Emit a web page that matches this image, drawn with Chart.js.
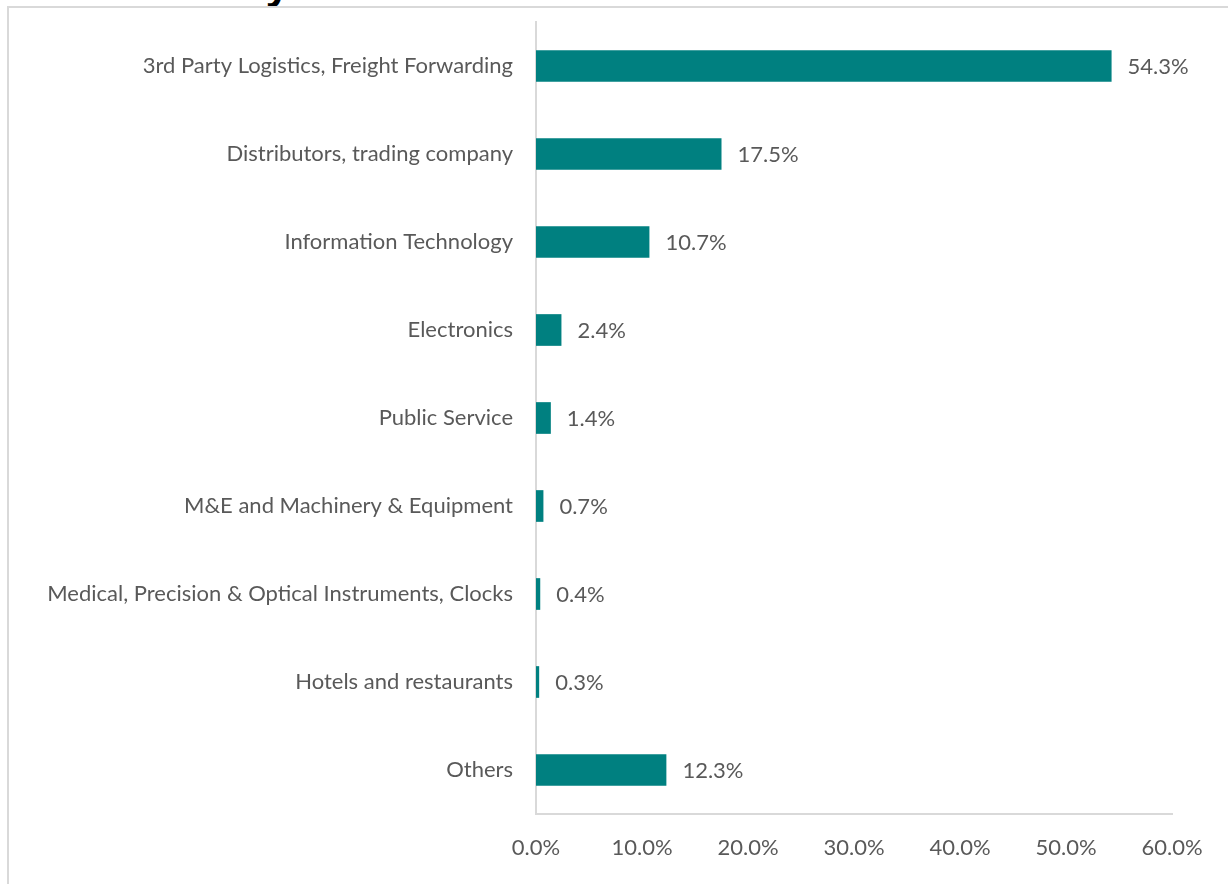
<!DOCTYPE html>
<html>
<head>
<meta charset="utf-8">
<script src="https://cdn.jsdelivr.net/npm/chart.js@4"></script>
<style>
  html, body { margin: 0; padding: 0; background: #fff; overflow: hidden; }
  #frame { position: absolute; left: 7px; top: 6px; width: 1230px; height: 900px; border: 2px solid #d9d9d9; box-sizing: border-box; }
  #title { position: absolute; left: 120px; top: -44px; font: bold 40px "Open Sans", sans-serif; color: #000; white-space: nowrap; }
  #wrap { position: absolute; left: 0; top: 0; width: 1228px; height: 884px; }
</style>
</head>
<body>
<div id="title">Industry</div>
<div id="frame"></div>
<div id="wrap"><canvas id="bars"></canvas></div>
<script>
const categories = [
  '3rd Party Logistics, Freight Forwarding',
  'Distributors, trading company',
  'Information Technology',
  'Electronics',
  'Public Service',
  'M&E and Machinery & Equipment',
  'Medical, Precision & Optical Instruments, Clocks',
  'Hotels and restaurants',
  'Others'
];
const shares = [54.3, 17.5, 10.7, 2.4, 1.4, 0.7, 0.4, 0.3, 12.3];
const xTicks = [0, 10, 20, 30, 40, 50, 60];

const TEAL = '#008080';
const GREY_TEXT = '#595959';
const AXIS = '#d9d9d9';
const FONT = 'Lato, "Open Sans", sans-serif';

// value labels at the end of each bar
const barLabels = {
  id: 'barLabels',
  afterDatasetsDraw(chart) {
    const ctx = chart.ctx;
    const meta = chart.getDatasetMeta(0);
    ctx.save();
    ctx.font = '22px ' + FONT;
    ctx.fillStyle = GREY_TEXT;
    ctx.textBaseline = 'middle';
    ctx.textAlign = 'left';
    meta.data.forEach((bar, i) => {
      ctx.fillText(shares[i].toFixed(1) + '%', bar.x + 16, bar.y + 1);
    });
    ctx.restore();
  }
};

new Chart(document.getElementById('bars').getContext('2d'), {
  type: 'bar',
  data: {
    labels: categories,
    datasets: [{
      data: shares,
      backgroundColor: TEAL,
      borderWidth: 0,
      categoryPercentage: 1,
      barPercentage: 0.36
    }]
  },
  options: {
    indexAxis: 'y',
    responsive: true,
    maintainAspectRatio: false,
    animation: false,
    layout: { padding: { top: 22, right: 56, left: 0, bottom: 0 } },
    plugins: {
      legend: { display: false },
      tooltip: { enabled: false }
    },
    scales: {
      x: {
        min: 0,
        max: 60,
        afterBuildTicks(scale) {
          scale.ticks = xTicks.map(v => ({ value: v }));
        },
        afterFit(scale) {
          scale.height = 70;
          scale.paddingLeft = 0;
          scale.paddingRight = 0;
        },
        grid: { display: false, drawTicks: false },
        border: { display: true, color: AXIS, width: 2 },
        ticks: {
          padding: 21,
          color: GREY_TEXT,
          font: { family: FONT, size: 22 },
          callback: v => v.toFixed(1) + '%'
        }
      },
      y: {
        afterFit(scale) {
          scale.width = 536;
          scale.paddingTop = 0;
          scale.paddingBottom = 0;
        },
        grid: { display: false, drawTicks: false },
        border: { display: true, color: AXIS, width: 2 },
        ticks: {
          padding: 23,
          color: GREY_TEXT,
          font: { family: FONT, size: 22 }
        }
      }
    }
  },
  plugins: [barLabels]
});
</script>
</body>
</html>
